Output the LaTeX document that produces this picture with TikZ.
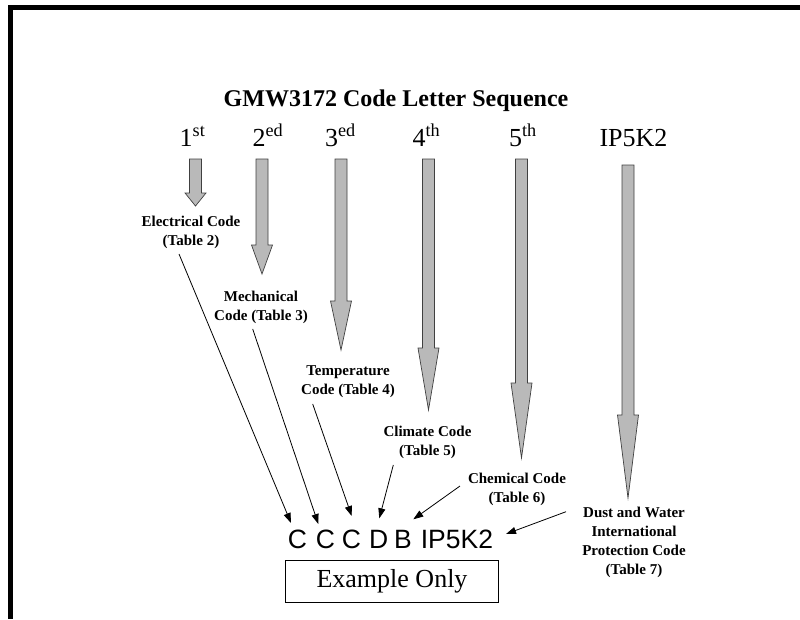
\documentclass[tikz,border=0pt]{standalone}
\usepackage{fontspec}
\setmainfont{Liberation Serif}
\newfontfamily\codefont{Liberation Sans}
\usetikzlibrary{arrows.meta}
\newcommand\blockarr[4]{%
  \draw[blockarrow] (#1-6,#2) -- (#1+6,#2) -- (#1+6,#3) -- (#1+10.5,#3) -- (#1,#4)
    -- (#1-10.5,#3) -- (#1-6,#3) -- cycle;}
\begin{document}
\begin{tikzpicture}[x=1pt,y=-1pt,
  blockarrow/.style={fill=gray!55, draw=black!75, line width=0.7pt},
  lbl/.style={font=\fontsize{15}{19}\selectfont\bfseries, align=center, inner sep=0pt, anchor=north},
  ord/.style={font=\fontsize{26}{30}\selectfont, anchor=base, inner sep=0pt},
  codeltr/.style={font=\codefont\fontsize{26.5}{30}\selectfont, anchor=base west, inner sep=0pt},
  conn/.style={line width=0.8pt, -{Triangle[length=10pt,width=7pt]}},
  frame/.style={line width=4.6pt}]
\useasboundingbox (0,0) rectangle (800,619);
% frame
\draw[frame] (8,7.2) -- (800,7.2);
\draw[frame] (10.5,5) -- (10.5,619);
% title
\node[font=\fontsize{24}{28}\selectfont\bfseries, anchor=base, inner sep=0pt] (title) at (396,106) {GMW3172 Code Letter Sequence};
% ordinals
\node[ord] (o1) at (192.5,146) {1\textsuperscript{st}};
\node[ord] (o2) at (268,146) {2\textsuperscript{ed}};
\node[ord] (o3) at (340.5,146) {3\textsuperscript{ed}};
\node[ord] (o4) at (426.5,146) {4\textsuperscript{th}};
\node[ord] (o5) at (523,146) {5\textsuperscript{th}};
\node[ord] (o6) at (633.5,146) {IP5K2};
% block arrows
\blockarr{195.5}{159}{193}{206}
\blockarr{262}{159}{245}{274}
\blockarr{341}{159}{301}{350}
\blockarr{428.5}{159}{348}{410}
\blockarr{521.5}{159}{383}{458}
\blockarr{628}{165}{415}{498}
% labels
\node[lbl] (elec) at (191,216) {Electrical Code\\(Table 2)};
\node[lbl] (mech) at (261,291) {Mechanical\\Code (Table 3)};
\node[lbl] (temp) at (348,365) {Temperature\\Code (Table 4)};
\node[lbl] (clim) at (427.5,426) {Climate Code\\(Table 5)};
\node[lbl] (chem) at (517,473) {Chemical Code\\(Table 6)};
\node[lbl] (dust) at (634,507.3) {Dust and Water\\International\\Protection Code\\(Table 7)};
% code letters
\node[codeltr] (c1) at (287.7,548) {C};
\node[codeltr] (c2) at (315.7,548) {C};
\node[codeltr] (c3) at (341.7,548) {C};
\node[codeltr] (cd) at (369,548) {D};
\node[codeltr] (cb) at (394,548) {B};
\node[codeltr] (cip) at (420.6,548) {IP5K2};
% example box
\node[draw, line width=1pt, minimum width=212.6pt, minimum height=42.3pt, inner sep=0pt,
      font=\fontsize{26}{30}\selectfont] (ex) at (392,581.2) {Example Only};
% connector end points
\coordinate (s1) at (179,254);   \coordinate (t1) at (291,523);
\coordinate (s2) at (252.7,329); \coordinate (t2) at (318.3,524);
\coordinate (s3) at (312.7,404); \coordinate (t3) at (351.7,516);
\coordinate (s4) at (393.3,465); \coordinate (t4) at (379.3,518.3);
\coordinate (s5) at (460,486);   \coordinate (t5) at (413.3,519.3);
\coordinate (s6) at (566,511.7); \coordinate (t6) at (506,534);
\draw[conn] (s1) -- (t1);
\draw[conn] (s2) -- (t2);
\draw[conn] (s3) -- (t3);
\draw[conn] (s4) -- (t4);
\draw[conn] (s5) -- (t5);
\draw[conn] (s6) -- (t6);
\end{tikzpicture}
\end{document}
